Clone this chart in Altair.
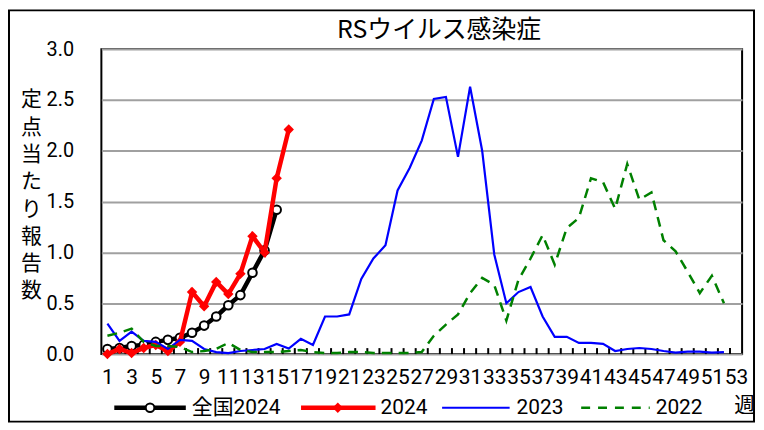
import altair as alt
import pandas as pd

# ---------------- data ----------------
weeks = list(range(1, 54))
odd_weeks = list(range(1, 54, 2))

series_names = ["全国2024", "2024", "2023", "2022"]

national_2024 = [0.05, 0.06, 0.08, 0.09, 0.12, 0.14, 0.16, 0.21, 0.28, 0.37,
                 0.48, 0.58, 0.80, 1.02, 1.42]

local_2024 = [0.00, 0.05, 0.01, 0.06, 0.09, 0.03, 0.12, 0.61, 0.47, 0.71,
              0.59, 0.79, 1.16, 1.00, 1.73, 2.21]

y2023 = [0.30, 0.13, 0.22, 0.13, 0.12, 0.05, 0.14, 0.13, 0.05, 0.02,
         0.01, 0.03, 0.04, 0.05, 0.10, 0.055, 0.15, 0.09, 0.37, 0.37,
         0.39, 0.74, 0.94, 1.07, 1.61, 1.83, 2.10, 2.51, 2.53, 1.94,
         2.63, 2.00, 0.98, 0.50, 0.61, 0.66, 0.37, 0.17, 0.17, 0.11,
         0.11, 0.10, 0.03, 0.05, 0.06, 0.05, 0.03, 0.015, 0.025, 0.025,
         0.015, 0.02]

y2022 = [0.18, 0.21, 0.25, 0.12, 0.08, 0.08, 0.07, 0.02, 0.03, 0.05,
         0.11, 0.04, 0.02, 0.02, 0.02, 0.03, 0.04, 0.02, 0.01, 0.01,
         0.02, 0.02, 0.01, 0.01, 0.01, 0.01, 0.02, 0.18, 0.29, 0.39,
         0.60, 0.75, 0.68, 0.33, 0.73, 0.94, 1.17, 0.88, 1.24, 1.34,
         1.73, 1.69, 1.43, 1.87, 1.52, 1.59, 1.12, 1.01, 0.81, 0.60,
         0.77, 0.50]

y_ticks = [0.0, 0.5, 1.0, 1.5, 2.0, 2.5, 3.0]
y_title_chars = ["定", "点", "当", "た", "り", "報", "告", "数"]
title_text = "RSウイルス感染症"
x_title = "週"


def frame(name, vals):
    return pd.DataFrame({"week": weeks[:len(vals)], "value": vals, "series": name})


df_nat = frame(series_names[0], national_2024)
df_loc = frame(series_names[1], local_2024)
df_23 = frame(series_names[2], y2023)
df_22 = frame(series_names[3], y2022)
df_ticks = pd.DataFrame({"week": [w + 0.5 for w in weeks[:-1]]})

# ---------------- layout ----------------
W, H = 645, 307
JP = "Noto Sans CJK JP"
NUM = "Roboto, Noto Sans CJK JP"

xscale = alt.Scale(domain=[0.5, 53.5], nice=False, zero=False)
yscale = alt.Scale(domain=[0, 3], nice=False)

x_axis = alt.Axis(values=odd_weeks, labelOverlap=False, labelFlush=False,
                  labelBound=False, labelSeparation=0,
                  ticks=False, domain=False, grid=False,
                  labelFont=NUM, labelFontSize=21, labelColor="#000",
                  labelPadding=13,
                  title=x_title, titleFont=JP, titleFontSize=21,
                  titleFontWeight="normal", titleColor="#000",
                  titleX=647, titleY=52, titleAlign="center",
                  titleBaseline="middle")
y_axis = alt.Axis(values=y_ticks, format=".1f", grid=True,
                  gridColor="#a0a0a0", gridWidth=2, domain=False,
                  ticks=False, labelFont=NUM, labelFontSize=20,
                  labelColor="#000", labelPadding=28,
                  labelOverlap=False,
                  title=y_title_chars, titleFont=JP, titleFontSize=21,
                  titleFontWeight="normal", titleColor="#000",
                  titleAngle=0, titleAlign="center", titleBaseline="top",
                  titleLineHeight=27.5, titleX=-71, titleY=40)

X = alt.X("week:Q", scale=xscale, axis=x_axis)
Y = alt.Y("value:Q", scale=yscale, axis=y_axis)

ticks = alt.Chart(df_ticks).mark_rule(color="black", strokeWidth=2).encode(
    x=X, y=alt.value(H), y2=alt.value(H - 6))

nat_line = alt.Chart(df_nat).mark_line(color="black", strokeWidth=4.5).encode(x=X, y=Y)
nat_pts = alt.Chart(df_nat).mark_point(shape="circle", filled=True, fill="white",
                                       stroke="black", strokeWidth=2, size=75,
                                       opacity=1).encode(x=X, y=Y)
loc_line = alt.Chart(df_loc).mark_line(color="#ff0000", strokeWidth=4.5).encode(x=X, y=Y)
loc_pts = alt.Chart(df_loc).mark_point(shape="diamond", filled=True, color="#ff0000",
                                       size=110, opacity=1).encode(x=X, y=Y)
l23 = alt.Chart(df_23).mark_line(color="#0000ff", strokeWidth=2.2).encode(x=X, y=Y)
l22 = alt.Chart(df_22).mark_line(color="#008000", strokeWidth=2.5,
                                 strokeDash=[10, 7]).encode(x=X, y=Y)

# ---------------- title, legend, frame (layout) ----------------
one = pd.DataFrame({"k": [0]})
LY = 361
deco = []
deco.append(alt.Chart(one).mark_text(align="center", baseline="middle", font=JP,
                                     fontSize=25, color="#000").encode(
    x=alt.value(340), y=alt.value(-19), text=alt.value(title_text)))
deco.append(alt.Chart(one).mark_rule(color="black", strokeWidth=4.5).encode(
    x=alt.value(13), x2=alt.value(85), y=alt.value(LY)))
deco.append(alt.Chart(one).mark_point(shape="circle", filled=True, fill="white",
                                      stroke="black", strokeWidth=2, size=75,
                                      opacity=1).encode(x=alt.value(49), y=alt.value(LY)))
deco.append(alt.Chart(one).mark_rule(color="#ff0000", strokeWidth=4.5).encode(
    x=alt.value(201), x2=alt.value(276), y=alt.value(LY)))
deco.append(alt.Chart(one).mark_point(shape="diamond", filled=True, color="#ff0000",
                                      size=110, opacity=1).encode(x=alt.value(238), y=alt.value(LY)))
deco.append(alt.Chart(one).mark_rule(color="#0000ff", strokeWidth=2.2).encode(
    x=alt.value(343), x2=alt.value(411), y=alt.value(LY)))
deco.append(alt.Chart(one).mark_rule(color="#008000", strokeWidth=2.5,
                                     strokeDash=[9, 8]).encode(
    x=alt.value(483), x2=alt.value(552), y=alt.value(LY)))
for name, tx in zip(series_names, [91, 281, 418, 558]):
    deco.append(alt.Chart(one).mark_text(align="left", baseline="middle", font=NUM,
                                         fontSize=21, color="#000").encode(
        x=alt.value(tx), y=alt.value(LY), text=alt.value(name)))
deco.append(alt.Chart(one).mark_rect(fillOpacity=0, stroke="black", strokeWidth=2).encode(
    x=alt.value(-93), x2=alt.value(657), y=alt.value(-39), y2=alt.value(375)))

chart = alt.layer(
    nat_line, ticks, nat_pts, loc_line, loc_pts, l23, l22, *deco
).properties(
    width=W, height=H,
    autosize=alt.AutoSizeParams(type="none"),
    padding={"left": 94, "top": 40, "right": 14, "bottom": 70},
).configure(
    background="white",
    view=alt.ViewConfig(stroke="black", strokeWidth=2),
)

chart.save("out.html", embed_options={"renderer": "svg", "actions": False})
